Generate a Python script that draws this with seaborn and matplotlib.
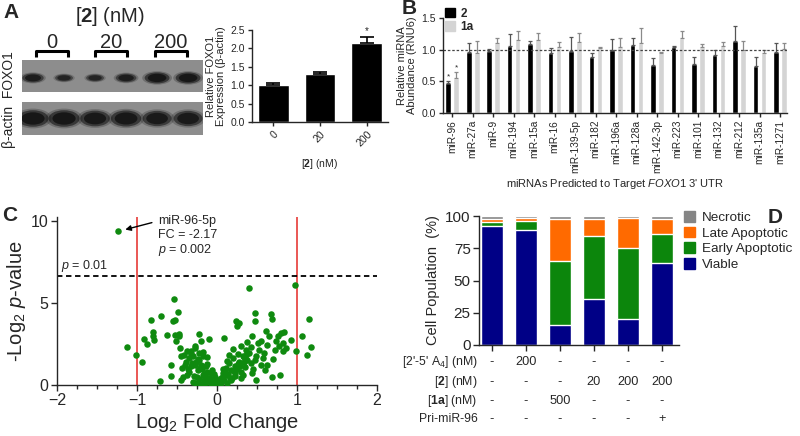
import numpy as np
import pandas as pd
import seaborn as sns
import matplotlib.pyplot as plt
from matplotlib.patches import Ellipse, Patch
from matplotlib.ticker import MultipleLocator

# ---- Panel A: western blot + quantification ----
dose_labels = ["0", "20", "200"]
foxo1_expr = [1.0, 1.3, 2.15]
foxo1_err = [0.07, 0.05, 0.17]
foxo1_band = [0.75, 0.5, 0.5, 0.7, 1.0, 1.0]   # relative band intensity per lane
actin_band = [1.0, 1.0, 0.9, 0.95, 0.85, 0.85]

# ---- Panel B: miRNA abundance ----
mirnas = ["miR-96", "miR-27a", "miR-9", "miR-194", "miR-15a", "miR-16", "miR-139-5p",
          "miR-182", "miR-196a", "miR-128a", "miR-142-3p", "miR-223", "miR-101",
          "miR-132", "miR-212", "miR-135a", "miR-1271"]
abund_2 = [0.47, 0.96, 0.98, 1.06, 1.09, 0.95, 0.98, 0.89, 0.99, 1.07, 0.76, 1.04,
           0.78, 0.92, 1.14, 0.74, 0.96]
err_2 = [0.04, 0.14, 0.03, 0.19, 0.05, 0.07, 0.22, 0.06, 0.18, 0.11, 0.11, 0.01,
         0.11, 0.08, 0.23, 0.14, 0.14]
abund_1a = [0.55, 0.95, 1.10, 1.15, 1.15, 1.04, 1.12, 1.03, 1.04, 1.10, 0.95, 1.19,
            1.04, 1.06, 1.00, 0.95, 1.01]
err_1a = [0.10, 0.19, 0.08, 0.15, 0.12, 0.08, 0.15, 0.01, 0.14, 0.24, 0.02, 0.10,
          0.05, 0.06, 0.13, 0.04, 0.10]

# ---- Panel C: volcano plot ----
c_log2fc = [-1.24, -1.12, -1.01, -0.94, -0.91, -0.88, -0.83, -0.80, -0.80, -0.79,
            -0.70, -0.71, -0.62, -0.58, -0.57, -0.55, -0.52, -0.54, -0.52, -0.51,
            -0.49, -0.48, -0.47, -0.46, -0.45, -0.44, -0.43, -0.41, -0.39, -0.37,
            -0.35, -0.32, -0.30, -0.28, -0.26, -0.24, -0.22, -0.22, -0.20, -0.18,
            -0.17, -0.16, -0.14, -0.12, -0.10, -0.10, -0.07, -0.05, -0.03, -0.01,
            0.01, 0.03, 0.05, 0.07, 0.09, 0.09, 0.11, 0.13, 0.15, 0.17,
            0.20, 0.22, 0.24, 0.25, 0.26, 0.27, 0.28, 0.30, 0.32, 0.34,
            0.36, 0.38, 0.40, 0.40, 0.42, 0.44, 0.47, 0.47, 0.49, 0.49,
            0.51, 0.53, 0.55, 0.57, 0.59, 0.61, 0.63, 0.65, 0.67, 0.69,
            0.69, 0.72, 0.74, 0.76, 0.78, 0.79, 0.80, 0.82, 0.83, 0.84,
            0.86, 0.92, 0.98, 0.99, 1.06, 1.13, 1.15, 1.17,
            -0.30, -0.25, -0.35, -0.20, -0.15, -0.08, 0.05, 0.12, 0.18, 0.22,
            0.30, 0.25, 0.35, -0.28, -0.22, -0.32, -0.40, -0.18, 0.15, 0.38,
            0.45, 0.30, -0.12, -0.27, -0.20, 0.20, 0.42, 0.55, 0.60, -0.45,
            -0.06, 0.02, 0.08, -0.24, -0.13, 0.14, 0.33, -0.36, 0.27, -0.09,
            0.10, 0.19, -0.19, 0.36, 0.48, 0.62, 0.70, -0.33, 0.23, -0.04,
            -0.23, -0.16, -0.11, 0.04, 0.16, 0.21, 0.29, -0.29, -0.21, 0.12,
            -0.02, 0.06, -0.14, 0.26, -0.38, 0.34, 0.44, -0.31, 0.07, -0.26]
c_neglog2p = [9.39, 2.30, 1.80, 1.43, 2.80, 2.52, 3.95, 3.24, 3.00, 2.77,
              4.20, 0.27, 3.03, 1.21, 0.57, 3.93, 3.98, 5.23, 3.03, 2.66,
              4.45, 2.97, 3.11, 2.25, 1.74, 1.02, 0.51, 1.84, 1.43, 2.05,
              1.64, 1.13, 1.74, 2.25, 1.43, 0.92, 3.11, 1.95, 1.23, 0.61,
              1.74, 0.31, 1.13, 0.82, 2.83, 0.41, 0.72, 0.20, 0.51, 0.10,
              0.31, 0.06, 0.41, 0.72, 2.87, 0.31, 1.02, 0.61, 1.33, 0.92,
              1.64, 1.13, 3.89, 3.63, 1.89, 3.79, 1.33, 2.36, 1.74, 1.43,
              2.15, 2.60, 5.94, 1.95, 1.33, 2.97, 4.41, 3.89, 0.31, 1.74,
              2.56, 2.15, 2.66, 1.64, 1.95, 3.28, 2.46, 2.97, 4.34, 0.51,
              4.00, 2.15, 2.66, 3.01, 2.36, 0.61, 3.18, 2.56, 2.05, 3.22,
              2.25, 2.77, 6.09, 2.05, 3.01, 1.80, 4.00, 2.30,
              0.20, 0.50, 0.80, 0.05, 0.15, 0.05, 0.15, 0.10, 0.30, 0.55,
              0.80, 1.00, 1.10, 1.20, 1.50, 1.90, 1.20, 2.00, 1.80, 1.50,
              1.00, 0.40, 1.70, 2.40, 2.70, 2.20, 2.30, 1.20, 0.90, 0.30,
              0.90, 0.25, 0.55, 1.60, 1.30, 0.70, 0.60, 1.00, 1.40, 0.35,
              0.85, 0.45, 0.95, 1.85, 1.55, 1.25, 1.60, 2.10, 0.75, 0.65,
              0.35, 0.65, 0.25, 0.08, 0.45, 0.85, 1.15, 0.55, 1.05, 1.45,
              0.12, 0.28, 0.48, 1.30, 0.60, 1.70, 0.75, 1.35, 0.95, 0.15]

# ---- Panel D: cell populations ----
conditions = ["c1", "c2", "c3", "c4", "c5", "c6"]
viable = [92.0, 89.0, 15.5, 36.0, 20.5, 63.5]
early_apop = [3.0, 7.5, 49.5, 48.5, 55.0, 22.5]
late_apop = [2.5, 2.0, 33.0, 13.5, 23.0, 12.0]
necrotic = [2.5, 1.5, 2.0, 2.0, 1.5, 2.0]
table_labels = [r"[2'-5' A$_4$] (nM)", r"[$\mathbf{2}$] (nM)", r"[$\mathbf{1a}$] (nM)", "Pri-miR-96"]
table_rows = [["-", "200", "-", "-", "-", "-"],
              ["-", "-", "-", "20", "200", "200"],
              ["-", "-", "500", "-", "-", "-"],
              ["-", "-", "-", "-", "-", "+"]]

sns.set_style("ticks")
plt.rcParams["font.family"] = ["Liberation Sans", "DejaVu Sans"]
plt.rcParams["mathtext.fontset"] = "custom"
plt.rcParams["mathtext.rm"] = "Liberation Sans"
plt.rcParams["mathtext.it"] = "Liberation Sans:italic"
plt.rcParams["mathtext.bf"] = "Liberation Sans:bold"
plt.rcParams["axes.linewidth"] = 1.0

W, H = 800, 436
fig = plt.figure(figsize=(W / 100, H / 100), dpi=100)


def px_axes(left, top, right, bottom):
    return fig.add_axes([left / W, 1 - bottom / H, (right - left) / W, (bottom - top) / H])


def style_ticks(ax, size):
    ax.tick_params(axis="both", direction="out", length=3, width=1, labelsize=size, pad=2)
    for s in ["top", "right"]:
        ax.spines[s].set_visible(False)


# ===== Panel A blot =====
for band, (top, bot), yc, base_w, base_h in [(foxo1_band, (60, 92), 0.44, 0.35, 0.1),
                                            (actin_band, (102, 135), 0.5, 0.55, 0.25)]:
    bx = px_axes(22, top, 203, bot)
    bx.set_facecolor("#8d8d8d")
    bx.set_xlim(0.645, 6.48)
    bx.set_ylim(0, 1)
    bx.set_xticks([])
    bx.set_yticks([])
    for s in bx.spines.values():
        s.set_visible(False)
    for lane, inten in enumerate(band, start=1):
        w = base_w + 0.45 * inten
        h = base_h + 0.25 * inten
        for k, a in [(1.2, 0.25), (1.0, 0.6), (0.75, 0.9)]:
            bx.add_patch(Ellipse((lane, yc), w * k, h * k, facecolor="#141414",
                                 alpha=a * (0.55 + 0.45 * inten), linewidth=0))

# ===== Panel A bars =====
axA = px_axes(252, 30, 388, 122)
sns.barplot(x=dose_labels, y=foxo1_expr, color="black", width=0.65, errorbar=None,
            saturation=1, ax=axA)
axA.errorbar(range(3), foxo1_expr, yerr=[[0] * 3, foxo1_err], fmt="none", ecolor="black",
             elinewidth=1.2, capsize=5, capthick=1.2)
axA.text(2, foxo1_expr[2] + foxo1_err[2] + 0.02, "*", ha="center", va="bottom", fontsize=7)
axA.set_ylim(0, 2.5)
axA.set_xlim(-0.46, 2.46)
axA.set_yticks([0, 0.5, 1.0, 1.5, 2.0, 2.5])
axA.set_yticklabels(["0.0", "0.5", "1.0", "1.5", "2.0", "2.5"])
style_ticks(axA, 7.5)
plt.setp(axA.get_xticklabels(), rotation=45, ha="right", rotation_mode="anchor")
axA.set_ylabel("Relative FOXO1\nExpression (β-actin)", fontsize=8, labelpad=3, linespacing=1.1)
axA.set_xlabel(r"[$\mathbf{2}$] (nM)", fontsize=7.5, labelpad=6)

# ===== Panel B =====
df_b = pd.DataFrame({
    "mirna": mirnas * 2,
    "value": abund_2 + abund_1a,
    "cmpd": ["2"] * len(mirnas) + ["1a"] * len(mirnas),
})
axB = px_axes(443, 18, 787, 113)
sns.barplot(data=df_b, x="mirna", y="value", hue="cmpd", palette={"2": "black", "1a": "#d4d4d4"},
            width=0.78, gap=0.3, errorbar=None, saturation=1, legend=False, ax=axB)
for cont, vals, errs, ec in [(axB.containers[0], abund_2, err_2, "#555555"),
                             (axB.containers[1], abund_1a, err_1a, "#8a8a8a")]:
    xs = [b.get_x() + b.get_width() / 2 for b in cont]
    axB.errorbar(xs, vals, yerr=[[0] * len(vals), errs], fmt="none", ecolor=ec,
                 elinewidth=0.9, capsize=1.2, capthick=0.9)
    axB.text(xs[0], vals[0] + errs[0] + 0.01, "*", ha="center", va="bottom", fontsize=6)
axB.axhline(1.0, color="#444444", lw=0.9, ls=(0, (2, 1.5)))
axB.set_ylim(0, 1.5)
axB.set_xlim(-0.45, 16.34)
axB.set_yticks([0, 0.5, 1.0, 1.5])
axB.set_yticklabels(["0.0", "0.5", "1.0", "1.5"])
style_ticks(axB, 7.5)
plt.setp(axB.get_xticklabels(), rotation=90, fontsize=7.3)
axB.set_ylabel("Relative miRNA\nAbundance (RNU6)", fontsize=8, labelpad=3, linespacing=1.1)
axB.set_xlabel(r"miRNAs Predicted to Target $\mathit{FOXO1}$ 3' UTR", fontsize=8, labelpad=3)
axB.legend(handles=[Patch(color="black", label="2"), Patch(color="#d4d4d4", label="1a")],
           loc="upper left", bbox_to_anchor=(0.003, 1.12), bbox_transform=axB.transAxes,
           frameon=False, prop={"weight": "bold", "size": 8.5}, handlelength=0.85,
           handleheight=0.85, handletextpad=0.45, labelspacing=0.1, borderpad=0.1,
           borderaxespad=0)

# ===== Panel C =====
axC = px_axes(57, 217, 377, 385)
axC.axvline(-1, color="#e84a47", lw=1.3, zorder=1)
axC.axvline(1, color="#e84a47", lw=1.3, zorder=1)
axC.axhline(-np.log2(0.01), color="black", lw=1.3, ls=(0, (3, 2)), zorder=1)
sns.scatterplot(x=c_log2fc, y=c_neglog2p, color="#0f8a0f", s=22, linewidth=0, ax=axC,
                zorder=3)
axC.set_xlim(-2, 2)
axC.set_ylim(0, 10.25)
axC.set_xticks([-2, -1, 0, 1, 2])
axC.set_yticks([0, 5, 10])
axC.xaxis.set_minor_locator(MultipleLocator(0.25))
style_ticks(axC, 11.5)
axC.tick_params(axis="both", which="major", length=4)
axC.tick_params(axis="x", which="minor", length=3, width=1)
axC.set_xlabel(r"Log$_2$ Fold Change", fontsize=14.5, labelpad=2)
axC.set_ylabel(r"-Log$_2$ $p$-value", fontsize=14.5, labelpad=2)
axC.text(-1.95, -np.log2(0.01) + 0.15, r"$p$ = 0.01", fontsize=9, ha="left", va="bottom")
axC.annotate("", xy=(c_log2fc[0] + 0.06, c_neglog2p[0] + 0.05), xytext=(-0.78, 9.95),
             arrowprops=dict(arrowstyle="-|>", color="black", lw=1.0, mutation_scale=8))
axC.text(-0.74, 10.35, "miR-96-5p\nFC = -2.17\n" + r"$p$ = 0.002", fontsize=9, ha="left",
         va="top", linespacing=1.15)

# ===== Panel D =====
axD = px_axes(479, 216, 679, 345)
cum_early = [v + e for v, e in zip(viable, early_apop)]
cum_late = [c + l for c, l in zip(cum_early, late_apop)]
cum_total = [c + n for c, n in zip(cum_late, necrotic)]
for heights, col in [(cum_total, "#858585"), (cum_late, "#ff6a00"),
                     (cum_early, "#0c860c"), (viable, "#000086")]:
    sns.barplot(x=conditions, y=heights, color=col, width=0.67, errorbar=None,
                saturation=1, ax=axD)
axD.set_ylim(0, 100)
axD.set_xlim(-0.38, 5.5)
axD.set_yticks([0, 25, 50, 75, 100])
style_ticks(axD, 11)
axD.tick_params(axis="both", length=4)
axD.set_xticklabels([])
axD.set_xlabel("")
axD.set_ylabel("Cell Population  (%)", fontsize=10.5, labelpad=4)
axD.legend(handles=[Patch(color="#858585", label="Necrotic"),
                    Patch(color="#ff6a00", label="Late Apoptotic"),
                    Patch(color="#0c860c", label="Early Apoptotic"),
                    Patch(color="#000086", label="Viable")],
           loc="upper left", bbox_to_anchor=(684 / W, 1 - 211 / H), bbox_transform=fig.transFigure,
           frameon=False, fontsize=9.7, handlelength=0.85, handleheight=0.85,
           handletextpad=0.45, labelspacing=0.2, borderpad=0, borderaxespad=0)
row_y = [362, 382, 401, 419]
for lab, vals, ry in zip(table_labels, table_rows, row_y):
    yy = (345 - ry) / 129
    axD.text(-0.42, yy, lab, transform=axD.get_xaxis_transform(), ha="right", va="center",
             fontsize=8.8)
    for i, v in enumerate(vals):
        axD.text(i, yy, v, transform=axD.get_xaxis_transform(), ha="center", va="center",
                 fontsize=9.2)

# overlay for free text (panel letters, blot labels), drawn on top of everything
ov = fig.add_axes([0, 0, 1, 1])
ov.set_zorder(10)
ov.set_xlim(0, W)
ov.set_ylim(H, 0)
ov.axis("off")
ov.patch.set_visible(False)

ov.text(110, 17, r"[$\mathbf{2}$] (nM)", fontsize=14.5, ha="center", va="center")
for i, lab in enumerate(dose_labels):
    cx = 2 + 31 * (1.6 + 2 * i - (0.08 * i))
    ov.text(cx, 42, lab, fontsize=14.5, ha="center", va="center")
    ov.plot([cx - 16, cx - 16, cx + 16, cx + 16], [57, 51, 51, 57], color="black", lw=2.2,
            solid_capstyle="butt")
ov.text(9, 100, "β-actin  FOXO1", fontsize=10, rotation=90, ha="center", va="center")

ov.text(3, 3, "A", fontsize=15, fontweight="bold", ha="left", va="top")
ov.text(402, -1, "B", fontsize=15, fontweight="bold", ha="left", va="top")
ov.text(2, 206, "C", fontsize=15, fontweight="bold", ha="left", va="top")
ov.text(768, 208, "D", fontsize=15, fontweight="bold", ha="left", va="top")

fig.savefig("out.png", dpi=100)
